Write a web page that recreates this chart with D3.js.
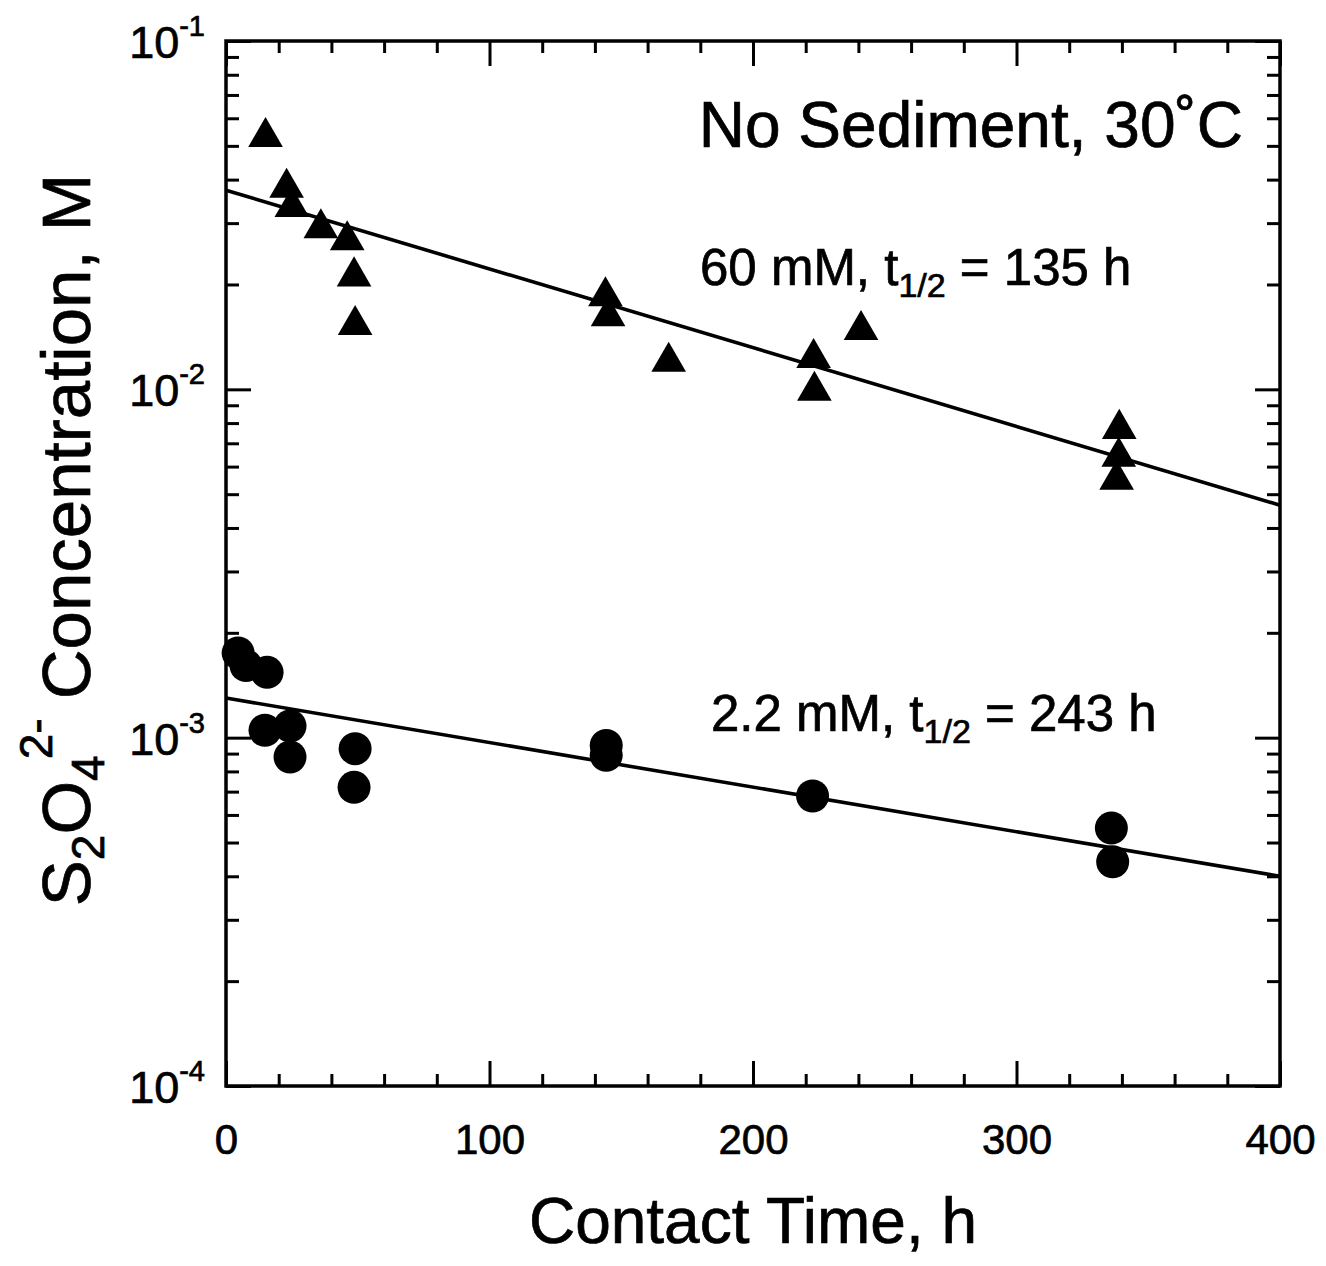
<!DOCTYPE html>
<html>
<head>
<meta charset="utf-8">
<script src="https://cdn.jsdelivr.net/npm/d3@7"></script>
<style>
  body { margin: 0; background: #fff; }
  text { font-family: "Liberation Sans", Arial, Helvetica, sans-serif; fill: #000; stroke: #000; stroke-width: 0.7px; }
</style>
</head>
<body>
<svg id="chart"></svg>
<script>
// 60 mM (triangles)
const triTime = [15, 23, 25, 36, 46, 48.6, 49, 144, 145, 168, 223, 223.3, 241, 339, 338.8, 338]
const triConc = [0.053, 0.0379, 0.0334, 0.029, 0.0268, 0.0211, 0.0153, 0.0185, 0.0162, 0.012, 0.0123, 0.0099, 0.0148, 0.0077, 0.0064, 0.0055]
// 2.2 mM (circles)
const cirTime = [4.6, 7.6, 15.6, 14.8, 24.3, 24.3, 49, 48.6, 144.3, 144.3, 222.6, 336, 336.5]
const cirConc = [0.00175, 0.00161, 0.00154, 0.00105, 0.00108, 0.00088, 0.00093, 0.00072, 0.00095, 0.00089, 0.00068, 0.00055, 0.00044]
// fitted lines (end points)
const fitTime = [0, 400]
const fit60 = [0.0373, 0.00465]
const fit22 = [0.0013, 0.00040]

const xMajor = [0, 100, 200, 300, 400]
const yMajor = [1e-1, 1e-2, 1e-3, 1e-4]
const yLabels = ['-1', '-2', '-3', '-4']

const W = 1326, H = 1266
const margin = { top: 41, right: 46, bottom: 180, left: 226 }
const iw = W - margin.left - margin.right
const ih = H - margin.top - margin.bottom

const svg = d3.select('#chart').attr('width', W).attr('height', H)
const g = svg.append('g').attr('transform', `translate(${margin.left},${margin.top})`)

const x = d3.scaleLinear().domain([0, 400]).range([0, iw])
const y = d3.scaleLog().domain([1e-4, 1e-1]).range([ih, 0])

// minor tick values
const xMinor = d3.range(0, 401, 20).filter(v => v % 100 !== 0)
const yMinor = []
;[1e-4, 1e-3, 1e-2].forEach(d => { for (let k = 2; k <= 9; k++) yMinor.push(d * k) })

function styleAxis(sel) {
  sel.selectAll('.domain').remove()
  sel.selectAll('line').attr('stroke', '#000').attr('stroke-width', 3)
}

// bottom
g.append('g').attr('transform', `translate(0,${ih})`)
  .call(d3.axisBottom(x).tickValues(xMajor).tickSize(-25).tickPadding(38).tickFormat(d3.format('d')))
  .call(styleAxis)
  .call(s => s.selectAll('text').attr('font-size', 42).attr('dy', '0.71em'))
g.append('g').attr('transform', `translate(0,${ih})`)
  .call(d3.axisBottom(x).tickValues(xMinor).tickSize(-12).tickFormat(''))
  .call(styleAxis)
// top
g.append('g')
  .call(d3.axisTop(x).tickValues(xMajor).tickSize(-25).tickFormat(''))
  .call(styleAxis)
g.append('g')
  .call(d3.axisTop(x).tickValues(xMinor).tickSize(-12).tickFormat(''))
  .call(styleAxis)
// left
g.append('g')
  .call(d3.axisLeft(y).tickValues(yMajor).tickSize(-25).tickFormat(''))
  .call(styleAxis)
g.append('g')
  .call(d3.axisLeft(y).tickValues(yMinor).tickSize(-13).tickFormat(''))
  .call(styleAxis)
// right
g.append('g').attr('transform', `translate(${iw},0)`)
  .call(d3.axisRight(y).tickValues(yMajor).tickSize(-25).tickFormat(''))
  .call(styleAxis)
g.append('g').attr('transform', `translate(${iw},0)`)
  .call(d3.axisRight(y).tickValues(yMinor).tickSize(-13).tickFormat(''))
  .call(styleAxis)

// y tick labels 10^n
yMajor.forEach((v, i) => {
  const t = g.append('text')
    .attr('x', -21).attr('y', y(v) + 17)
    .attr('text-anchor', 'end')
  t.append('tspan').attr('font-size', 45).text('10')
  t.append('tspan').attr('font-size', 29).attr('dy', -22).text(yLabels[i])
})

// frame
g.append('rect').attr('width', iw).attr('height', ih)
  .attr('fill', 'none').attr('stroke', '#000').attr('stroke-width', 3.5)

// fit lines
const line = d3.line().x(d => x(d[0])).y(d => y(d[1]))
;[fit60, fit22].forEach(f => {
  g.append('path')
    .datum(fitTime.map((t, i) => [t, f[i]]))
    .attr('d', line)
    .attr('fill', 'none').attr('stroke', '#000').attr('stroke-width', 3.6)
})

// markers
const tri = d3.symbol().type(d3.symbolTriangle).size(520)
g.selectAll('.tri')
  .data(triTime.map((t, i) => [t, triConc[i]]))
  .enter().append('path')
  .attr('class', 'tri')
  .attr('d', tri)
  .attr('transform', d => `translate(${x(d[0])},${y(d[1])})`)
  .attr('fill', '#000')

g.selectAll('.cir')
  .data(cirTime.map((t, i) => [t, cirConc[i]]))
  .enter().append('circle')
  .attr('class', 'cir')
  .attr('cx', d => x(d[0])).attr('cy', d => y(d[1]))
  .attr('r', 16.5)
  .attr('fill', '#000')

// annotations
g.append('text').attr('x', 1243 - margin.left).attr('y', 147 - margin.top)
  .attr('text-anchor', 'end').attr('font-size', 64).text('No Sediment, 30˚C')

const a1 = g.append('text').attr('x', 700 - margin.left).attr('y', 285 - margin.top).attr('font-size', 51)
a1.append('tspan').text('60 mM, t')
a1.append('tspan').attr('font-size', 34).attr('dy', 12).text('1/2')
a1.append('tspan').attr('dy', -12).text(' = 135 h')

const a2 = g.append('text').attr('x', 711 - margin.left).attr('y', 731 - margin.top).attr('font-size', 51)
a2.append('tspan').text('2.2 mM, t')
a2.append('tspan').attr('font-size', 34).attr('dy', 12).text('1/2')
a2.append('tspan').attr('dy', -12).text(' = 243 h')

// axis titles
svg.append('text').attr('x', 753).attr('y', 1243)
  .attr('text-anchor', 'middle').attr('font-size', 64).text('Contact Time, h')

const yt = svg.append('text')
  .attr('transform', `translate(90,540) rotate(-90)`)
  .attr('text-anchor', 'middle').attr('font-size', 69)
yt.append('tspan').text('S')
yt.append('tspan').attr('font-size', 46).attr('dy', 14).text('2')
yt.append('tspan').attr('dy', -14).text('O')
yt.append('tspan').attr('font-size', 46).attr('dy', 14).text('4')
yt.append('tspan').attr('font-size', 46).attr('dx', -4).attr('dy', -52).text('2-')
yt.append('tspan').attr('dy', 38).text(' Concentration, M')
</script>
</body>
</html>
